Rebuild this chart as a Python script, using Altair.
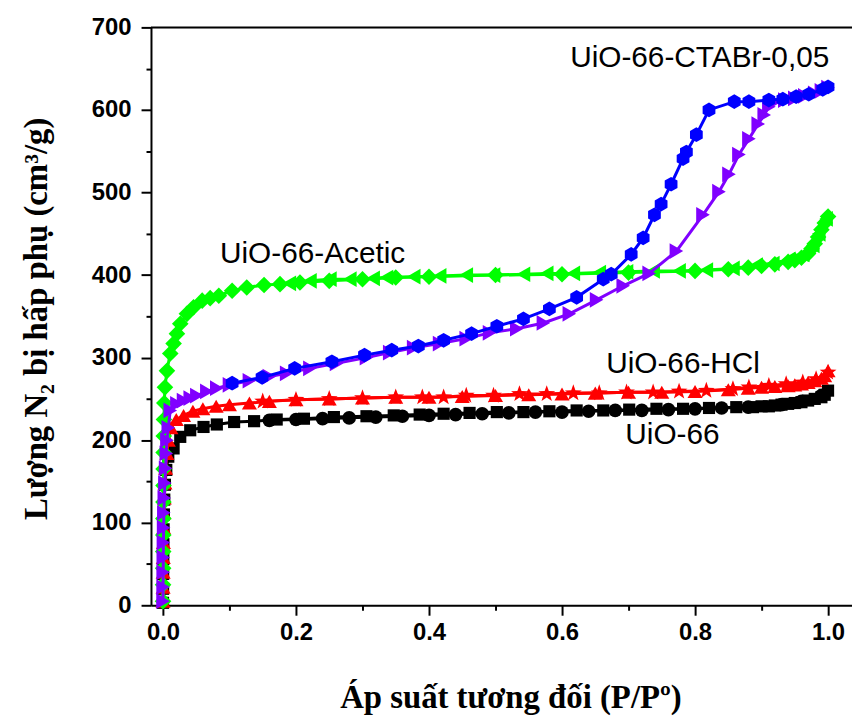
import altair as alt
import pandas as pd

# ---------------- data ----------------
# UiO-66 (black): adsorption = squares, desorption = circles
uio_ads_p = [0.0001, 0.0002, 0.0003, 0.0005, 0.0007, 0.001, 0.0014, 0.002, 0.003, 0.005, 0.008,
             0.016, 0.026, 0.041, 0.061, 0.081, 0.107, 0.137, 0.171, 0.212, 0.257, 0.306, 0.347,
             0.386, 0.422, 0.461, 0.502, 0.542, 0.581, 0.622, 0.662, 0.701, 0.742, 0.782, 0.821,
             0.862, 0.887, 0.90, 0.911, 0.92, 0.93, 0.94, 0.95, 0.96, 0.97, 0.98, 0.99, 0.995, 1.0]
uio_ads_v = [3, 20, 38, 56, 74, 92, 110, 128, 146, 164, 180,
             190, 204, 212, 216, 219, 222, 223, 225, 226, 228, 229, 230,
             231, 232, 233, 234, 234, 235, 236, 236, 237, 238, 238, 239,
             240, 240, 241, 241, 242, 243, 244, 245, 246, 248, 250, 252, 255, 260]
uio_des_p = [0.99, 0.96, 0.93, 0.88, 0.84, 0.80, 0.76, 0.72, 0.68, 0.64, 0.60, 0.56, 0.52, 0.48,
             0.44, 0.40, 0.36, 0.32, 0.28, 0.24, 0.20, 0.16]
uio_des_v = [254, 247, 243, 240, 239, 238, 237, 236, 236, 235, 234, 234, 233, 232,
             231, 230, 229, 228, 227, 226, 225, 224]

# UiO-66-HCl (red): adsorption = up triangles, desorption = stars
hcl_ads_p = [0.0001, 0.0002, 0.0003, 0.0005, 0.0007, 0.001, 0.0014, 0.002, 0.003, 0.004, 0.006, 0.008,
             0.012, 0.02, 0.031, 0.045, 0.06, 0.08, 0.10, 0.13, 0.16, 0.20, 0.25, 0.30, 0.35, 0.40,
             0.45, 0.50, 0.55, 0.60, 0.65, 0.70, 0.75, 0.80, 0.85, 0.88, 0.90, 0.92, 0.94, 0.95,
             0.96, 0.97, 0.98, 0.99, 0.995, 1.0]
hcl_ads_v = [5, 22, 40, 58, 76, 94, 112, 130, 148, 166, 184, 200,
             215, 225, 230, 235, 238, 241, 243, 245, 247, 249, 250, 251, 252, 252,
             253, 254, 255, 256, 257, 258, 258, 259, 261, 263, 264, 265, 266, 267,
             268, 270, 272, 275, 278, 284]
hcl_des_p = [1.0, 0.982, 0.962, 0.937, 0.911, 0.881, 0.857, 0.817, 0.776, 0.737, 0.697, 0.656,
             0.617, 0.577, 0.536, 0.497, 0.456, 0.422, 0.39, 0.35, 0.30, 0.25, 0.20, 0.15]
hcl_des_v = [282, 274, 270, 268, 266, 264, 262, 260, 259, 258, 258, 257,
             257, 256, 256, 254, 254, 252, 252, 252, 251, 250, 249, 247]

# UiO-66-Acetic (green): adsorption = diamonds, desorption = left triangles
ace_ads_p = [0.0001, 0.0002, 0.0003, 0.0004, 0.0005, 0.0006, 0.0007, 0.0008, 0.0009, 0.001, 0.0012, 0.0015,
             0.002, 0.003, 0.006, 0.011, 0.016, 0.021, 0.026, 0.036, 0.046, 0.059, 0.071, 0.084,
             0.104, 0.126, 0.152, 0.176, 0.206, 0.25, 0.30, 0.35, 0.40, 0.50, 0.60, 0.70, 0.80,
             0.85, 0.88, 0.90, 0.92, 0.94, 0.95, 0.96, 0.97, 0.975, 0.98, 0.985, 0.99, 0.995, 1.0]
ace_ads_v = [5, 25, 45, 65, 85, 105, 125, 145, 165, 185, 205, 225,
             245, 264, 284, 305, 317, 329, 341, 353, 361, 369, 372, 375,
             381, 385, 388, 389, 391, 393, 395, 397, 398, 400, 401, 403, 405,
             407, 409, 411, 413, 416, 418, 421, 426, 432, 438, 446, 455, 463, 471]
ace_des_p = [0.997, 0.986, 0.977, 0.962, 0.941, 0.917, 0.892, 0.857, 0.817, 0.776, 0.737, 0.697,
             0.656, 0.617, 0.577, 0.542, 0.497, 0.456, 0.416, 0.377, 0.336, 0.316, 0.281, 0.251,
             0.221, 0.19]
ace_des_v = [468, 450, 436, 425, 419, 414, 412, 408, 406, 405, 405, 404,
             403, 402, 402, 401, 400, 400, 399, 398, 397, 396, 395, 395,
             393, 390]

# UiO-66-CTABr-0,05: adsorption = purple right triangles, desorption = blue hexagons
cta_ads_p = [0.0001, 0.0002, 0.0003, 0.0005, 0.0007, 0.001, 0.0014, 0.002, 0.003, 0.004, 0.005, 0.006,
             0.008, 0.011, 0.021, 0.031, 0.041, 0.051, 0.066, 0.081, 0.10, 0.13, 0.16, 0.186,
             0.221, 0.261, 0.306, 0.341, 0.377, 0.416, 0.456, 0.491, 0.532, 0.572, 0.611, 0.652,
             0.692, 0.731, 0.772, 0.812, 0.836, 0.851, 0.866, 0.881, 0.895, 0.904, 0.911, 0.92,
             0.935, 0.95, 0.965, 0.98, 0.99, 1.0]
cta_ads_v = [5, 22, 40, 58, 76, 94, 112, 130, 148, 166, 184, 200,
             215, 236, 244, 248, 251, 254, 259, 263, 267, 272, 277, 281,
             287, 293, 300, 306, 312, 317, 323, 330, 335, 342, 353, 370,
             387, 402, 429, 473, 501, 522, 546, 565, 583, 594, 604, 610,
             612, 614, 617, 620, 623, 627]
cta_des_p = [1.0, 0.992, 0.971, 0.952, 0.932, 0.911, 0.881, 0.859, 0.821, 0.802, 0.787, 0.782,
             0.764, 0.749, 0.739, 0.722, 0.704, 0.674, 0.662, 0.622, 0.581, 0.542, 0.502, 0.464,
             0.422, 0.384, 0.344, 0.303, 0.254, 0.198, 0.149, 0.104]
cta_des_v = [628, 625, 619, 616, 613, 612, 610, 610, 600, 570, 549, 541,
             510, 486, 473, 445, 425, 401, 395, 373, 359, 347, 338, 329,
             321, 314, 309, 303, 295, 287, 276, 269]

# curve labels
label_text = ["UiO-66-CTABr-0,05", "UiO-66-Acetic", "UiO-66-HCl", "UiO-66"]
label_p = [0.807, 0.225, 0.782, 0.766]
label_v = [663, 426, 292, 206]

x_ticks = [0.0, 0.1, 0.2, 0.3, 0.4, 0.5, 0.6, 0.7, 0.8, 0.9, 1.0]
y_ticks = [0, 50, 100, 150, 200, 250, 300, 350, 400, 450, 500, 550, 600, 650, 700]

# ---------------- styling ----------------
HEX = "M0,-1L0.866,-0.5L0.866,0.5L0,1L-0.866,0.5L-0.866,-0.5Z"
STAR = ("M0,-1.1L0.26,-0.36L1.05,-0.34L0.42,0.14L0.65,0.89L0,0.44L-0.65,0.89"
        "L-0.42,0.14L-1.05,-0.34L-0.26,-0.36Z")

series = [
    ("UiO-66 ads", uio_ads_p, uio_ads_v, "#000000", "square", 150),
    ("UiO-66 des", uio_des_p, uio_des_v, "#000000", "circle", 190),
    ("HCl ads", hcl_ads_p, hcl_ads_v, "#FF0000", "triangle-up", 230),
    ("HCl des", hcl_des_p, hcl_des_v, "#FF0000", STAR, 260),
    ("Acetic ads", ace_ads_p, ace_ads_v, "#00FF00", "diamond", 280),
    ("Acetic des", ace_des_p, ace_des_v, "#00FF00", "triangle-left", 250),
    ("CTABr ads", cta_ads_p, cta_ads_v, "#8000FF", "triangle-right", 250),
    ("CTABr des", cta_des_p, cta_des_v, "#0000FF", HEX, 220),
]

W, H = 706, 582
xscale = alt.Scale(domain=[-0.018, 1.036], nice=False, zero=False)
yscale = alt.Scale(domain=[0, 700], nice=False)

x_axis = alt.Axis(
    values=x_ticks,
    labelExpr="round(datum.value*10) % 2 == 0 ? format(datum.value, '.1f') : ''",
    tickSize={"condition": {"test": "round(datum.value*10) % 2 == 0", "value": 10}, "value": 5},
    tickWidth=2, tickColor="black", domainWidth=2, domainColor="black",
    labelFont="Liberation Sans", labelFontWeight="bold", labelFontSize=24, labelColor="black",
    labelPadding=5, labelFlush=False, labelOverlap=False, grid=False,
    title="Áp suất tương đối (P/Pº)", titleFont="Liberation Serif", titleFontWeight="bold",
    titleFontSize=33, titleColor="black", titleX=362, titleY=103, titleBaseline="alphabetic",
    titleAlign="center",
)
y_axis = alt.Axis(
    values=y_ticks,
    labelExpr="datum.value % 100 == 0 ? format(datum.value, 'd') : ''",
    tickSize={"condition": {"test": "datum.value % 100 == 0", "value": 10}, "value": 5},
    tickWidth=2, tickColor="black", domainWidth=2, domainColor="black",
    labelFont="Liberation Sans", labelFontWeight="bold", labelFontSize=24, labelColor="black",
    labelPadding=10, labelFlush=False, labelOverlap=False, grid=False,
    title="Lượng N₂ bị hấp phụ (cm³/g)", titleFont="Liberation Serif", titleFontWeight="bold",
    titleFontSize=33, titleColor="black", titleX=-115, titleY=293, titleBaseline="middle",
    titleAlign="center", titleAngle=270,
)

enc_x = alt.X("P:Q", scale=xscale, axis=x_axis)
enc_y = alt.Y("V:Q", scale=yscale, axis=y_axis)

layers = []
for name, ps, vs, color, shape, size in series:
    df = pd.DataFrame({"P": ps, "V": vs, "i": list(range(len(ps)))})
    base = alt.Chart(df)
    line = base.mark_line(color=color, strokeWidth=3).encode(x=enc_x, y=enc_y, order="i:Q")
    pts = base.mark_point(filled=True, opacity=1, color=color, size=size, shape=shape).encode(
        x=enc_x, y=enc_y)
    layers += [line, pts]

lab_df = pd.DataFrame({"P": label_p, "V": label_v, "t": label_text})
labels = alt.Chart(lab_df).mark_text(font="Liberation Sans", fontSize=30, color="black",
                                      align="center", baseline="middle").encode(
    x=enc_x, y=enc_y, text="t:N")

top_line = alt.Chart(pd.DataFrame({"a": [0]})).mark_rule(color="black", strokeWidth=2).encode(
    x=alt.value(0), x2=alt.value(W), y=alt.value(0))

chart = alt.layer(*layers, labels, top_line).properties(
    width=W, height=H,
    autosize=alt.AutoSizeParams(type="none"),
    padding={"left": 144, "top": 17, "right": 0, "bottom": 112},
).configure_view(strokeWidth=0).configure(background="white")

chart.save("out.html", embed_options={"renderer": "svg", "actions": False})
